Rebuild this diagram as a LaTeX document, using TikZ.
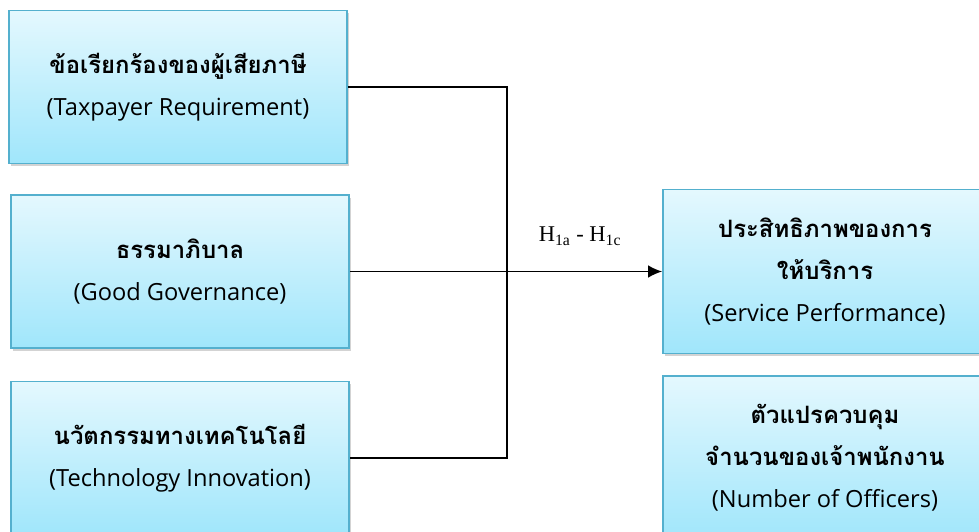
\documentclass[tikz,border=0pt]{standalone}
\usepackage{fontspec}
\newfontfamily\thaifont[Script=Thai]{Loma}
\newfontfamily\engfont{Open Sans}
\newfontfamily\hypfont{Liberation Serif}
\usetikzlibrary{shadows, arrows.meta}
\tikzset{>={Latex[length=10pt, width=9pt]}}
\definecolor{boxtop}{RGB}{228,248,254}
\definecolor{boxbot}{RGB}{160,230,251}
\definecolor{boxline}{RGB}{84,176,206}
\tikzset{
    varbox/.style={draw=boxline, line width=1.2pt, top color=boxtop, bottom color=boxbot,
        drop shadow={shadow xshift=1.5pt, shadow yshift=-2pt, opacity=0.35},
        align=center, inner sep=0pt, font=\thaifont\fontsize{17}{30}\selectfont},
    leftbox/.style={varbox, minimum width=8.45cm, minimum height=3.83cm},
    rightbox/.style={varbox, minimum width=8.1cm, minimum height=4.1cm}
}
\newcommand{\varname}[2]{\textbf{#1}\\{\engfont\fontsize{16.8}{30}\selectfont #2}}

\begin{document}
\begin{tikzpicture}[x=0.025cm, y=-0.025cm]
    \useasboundingbox (0, 0) rectangle (979, 532);
    \node[leftbox](tax) at (178, 87){\varname{ข้อเรียกร้องของผู้เสียภาษี}{(Taxpayer Requirement)}};
    \node[leftbox](gov) at (180, 271.5){\varname{ธรรมาภิบาล}{(Good Governance)}};
    \node[leftbox](tech) at (180, 458){\varname{นวัตกรรมทางเทคโนโลยี}{(Technology Innovation)}};
    \node[rightbox](perf) at (825, 271.5){\textbf{ประสิทธิภาพของการ}\\\varname{ให้บริการ}{(Service Performance)}};
    \node[rightbox](ctrl) at (825, 458){\textbf{ตัวแปรควบคุม}\\\varname{จำนวนของเจ้าพนักงาน}{(Number of Officers)}};
    \coordinate (joint) at (507, 271.5);
    \draw[line width=1pt](tax.east) -| (joint) |- (tech.east);
    \draw[line width=1pt, ->](gov.east) -- (perf.west);
    \node[font=\hypfont\fontsize{16}{18}\selectfont](hyp) at (580, 236){H\textsubscript{1a} - H\textsubscript{1c}};
\end{tikzpicture}
\end{document}
